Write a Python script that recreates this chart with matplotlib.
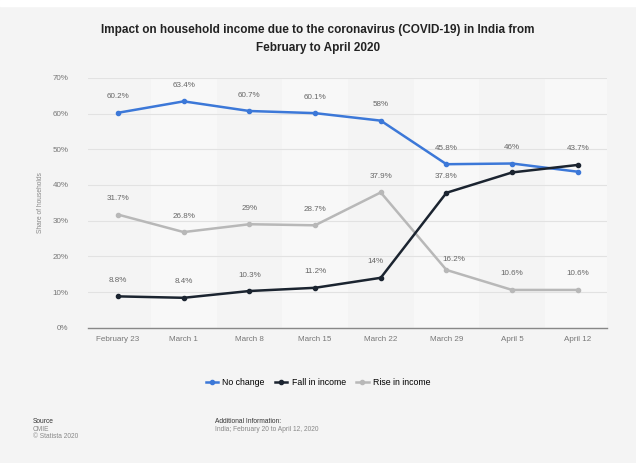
import matplotlib.pyplot as plt
import numpy as np

plt.rcParams['font.family'] = ['Liberation Sans', 'DejaVu Sans']

dates = ['February 23', 'March 1', 'March 8', 'March 15', 'March 22',
         'March 29', 'April 5', 'April 12']
no_change = [60.2, 63.4, 60.7, 60.1, 58.0, 45.8, 46.0, 43.7]
fall_income = [8.8, 8.4, 10.3, 11.2, 14.0, 37.8, 43.5, 45.6]
rise_income = [31.7, 26.8, 29.0, 28.7, 37.9, 16.2, 10.6, 10.6]

no_change_lbl = ['60.2%', '63.4%', '60.7%', '60.1%', '58%', '45.8%', '46%', '43.7%']
fall_lbl = ['8.8%', '8.4%', '10.3%', '11.2%', '14%', '37.8%', None, None]
rise_lbl = ['31.7%', '26.8%', '29%', '28.7%', '37.9%', '16.2%', '10.6%', '10.6%']

blue = '#3c78d8'
dark = '#1b2430'
grey = '#b8b8b8'
bg = '#f4f4f4'

fig = plt.figure(figsize=(6.36, 4.63), dpi=100, facecolor=bg)
ax = fig.add_axes([0.138, 0.292, 0.817, 0.54])
ax.set_facecolor(bg)
x = np.arange(len(dates))

# alternating column bands
for i in x:
    if i % 2 == 1:
        ax.axvspan(i - 0.5, i + 0.5, color='white', alpha=0.45, lw=0, zorder=0)

ax.plot(x, no_change, color=blue, lw=1.8, marker='o', ms=3, zorder=4, label='No change')
ax.plot(x, fall_income, color=dark, lw=1.8, marker='o', ms=3, zorder=4, label='Fall in income')
ax.plot(x, rise_income, color=grey, lw=1.8, marker='o', ms=3, zorder=3, label='Rise in income')

def put_labels(vals, labels, offsets):
    for i, (v, t) in enumerate(zip(vals, labels)):
        if t is None:
            continue
        dx, dy = offsets.get(i, (0, 9))
        ax.annotate(t, (i, v), xytext=(dx, dy), textcoords='offset points',
                    ha='center', va='bottom', fontsize=5.8, color='#666666', zorder=5)

put_labels(no_change, no_change_lbl, {7: (0, 14)})
put_labels(fall_income, fall_lbl, {4: (-4, 9)})
put_labels(rise_income, rise_lbl, {5: (5, 5)})

ax.set_xlim(-0.46, 7.45)
ax.set_ylim(0, 70)
ax.set_yticks(np.arange(0, 71, 10))
ax.set_yticklabels([f'{v}%' for v in range(0, 71, 10)])
ax.set_xticks(x)
ax.set_xticklabels(dates)
ax.tick_params(axis='both', length=0, labelsize=5.8, colors='#777777')
ax.tick_params(axis='y', pad=14)
ax.tick_params(axis='x', pad=6)
ax.grid(axis='y', color='#e2e2e2', lw=0.8)
ax.set_axisbelow(True)
for s in ['top', 'right', 'left']:
    ax.spines[s].set_visible(False)
ax.spines['bottom'].set_color('#888888')
ax.spines['bottom'].set_linewidth(1)
ax.set_ylabel('Share of households', fontsize=4.8, color='#888888', labelpad=6)

fig.text(0.5, 0.916, 'Impact on household income due to the coronavirus (COVID-19) in India from\n'
         'February to April 2020', ha='center', va='center', fontsize=8.5, fontweight='bold',
         color='#222222', linespacing=1.75)

fig.legend(loc='center', bbox_to_anchor=(0.5, 0.173), ncol=3, frameon=False,
           fontsize=6.3, handlelength=1.4, columnspacing=1.2, handletextpad=0.5)

fig.text(0.052, 0.087, 'Source', fontsize=4.8, color='#333333')
fig.text(0.052, 0.07, 'CMIE', fontsize=4.8, color='#888888')
fig.text(0.052, 0.053, '© Statista 2020', fontsize=4.8, color='#888888')
fig.text(0.338, 0.087, 'Additional Information:', fontsize=4.8, color='#333333')
fig.text(0.338, 0.07, 'India; February 20 to April 12, 2020', fontsize=4.8, color='#888888')

# thin white border along the top edge
fig.patches.append(plt.Rectangle((0, 0.988), 1, 0.012, transform=fig.transFigure,
                                 color='white', zorder=0))

fig.savefig('out.png', dpi=100, facecolor=bg)
